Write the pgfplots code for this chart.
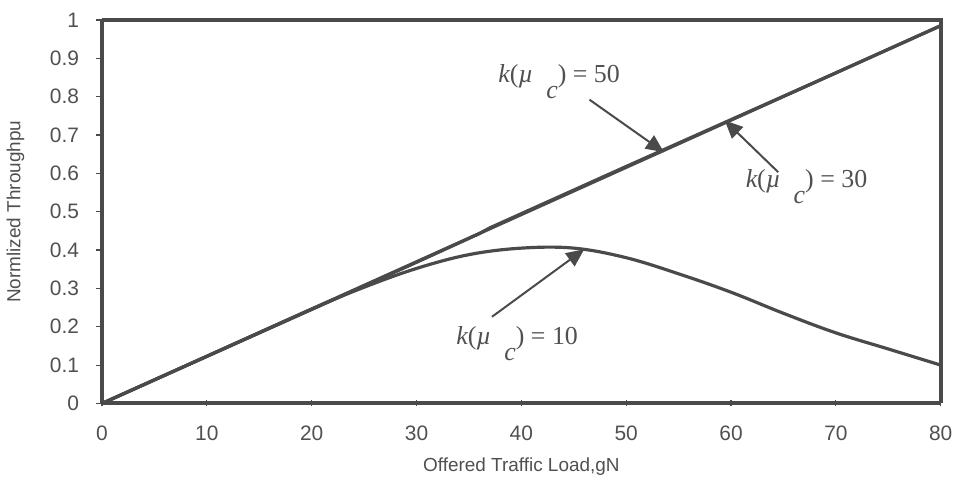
\documentclass[border=0pt]{standalone}
\usepackage{pgfplots}
\pgfplotsset{compat=1.18}
\usepackage{fontspec}
\setmainfont{Liberation Sans}
\newfontfamily\serif{Liberation Serif}
\usetikzlibrary{arrows.meta}
\definecolor{ink}{HTML}{4A4A4A}
\definecolor{txt}{HTML}{505050}
\begin{document}
\begin{tikzpicture}
\begin{axis}[
  scale only axis,
  width=421pt, height=192.5pt,
  xmin=0, xmax=80, ymin=0, ymax=1,
  xtick={0,10,...,80},
  ytick={0,0.1,...,1},
  yticklabels={0,0.1,0.2,0.3,0.4,0.5,0.6,0.7,0.8,0.9,1},
  /pgf/number format/assume math mode=true,
  axis line style={ink, line width=2pt},
  axis x line*=bottom, axis y line*=left,
  xtick style={ink, line width=0.6pt},
  ytick style={ink, line width=0.6pt},
  major tick length=3pt,
  xtick align=center, ytick align=outside,
  tick label style={txt, font=\fontsize{10.5}{12}\selectfont},
  xticklabel style={yshift=-6pt},
  yticklabel style={xshift=-5pt},
  xlabel={Offered Traffic Load,gN},
  ylabel={Normlized Throughpu},
  label style={txt, font=\fontsize{9.5}{11}\selectfont},
  xlabel style={yshift=-2pt},
  ylabel style={yshift=6pt},
  clip=false,
]
\path (rel axis cs:0,1) ++(0,10pt);
% top and right border
\draw[ink, line width=2pt] (axis cs:0,1) -- (axis cs:80,1) -- (axis cs:80,0);
% k(mu_c)=50
\addplot[ink, line width=1.6pt] coordinates {(0,0) (80,0.985)};
% k(mu_c)=30
\addplot[ink, line width=1.6pt] coordinates {(0,0) (20,0.245) (30,0.368) (36,0.443) (37,0.458) (50,0.618) (60,0.74) (70,0.862) (80,0.985)};
% k(mu_c)=10
\addplot[ink, line width=1.6pt, smooth, tension=0.6] coordinates {
(0,0) (10,0.123) (20,0.246) (25,0.303) (30,0.352) (35,0.388) (40,0.405) (45,0.405) (50,0.38) (55,0.338) (60,0.29) (65,0.235) (70,0.184) (75,0.142) (80,0.10)};
\node[txt] at (axis cs:43.6,0.84) {\serif\fontsize{13}{15}\selectfont\itshape k\upshape(\itshape\textmu\upshape\ \ \raisebox{-8pt}{\itshape c}) = 50};
\node[txt] at (axis cs:67.2,0.565) {\serif\fontsize{13}{15}\selectfont\itshape k\upshape(\itshape\textmu\upshape\ \ \raisebox{-8pt}{\itshape c}) = 30};
\node[txt] at (axis cs:39.6,0.155) {\serif\fontsize{13}{15}\selectfont\itshape k\upshape(\itshape\textmu\upshape\ \ \raisebox{-8pt}{\itshape c}) = 10};
\draw[ink, line width=1pt, -{Triangle[length=9pt, width=8pt]}] (axis cs:46.5,0.792) -- (axis cs:53.6,0.655);
\draw[ink, line width=1pt, -{Triangle[length=9pt, width=8pt]}] (axis cs:64.5,0.603) -- (axis cs:59.4,0.738);
\draw[ink, line width=1pt, -{Triangle[length=9pt, width=8pt]}] (axis cs:37.2,0.226) -- (axis cs:46,0.402);
\end{axis}
\end{tikzpicture}
\end{document}
